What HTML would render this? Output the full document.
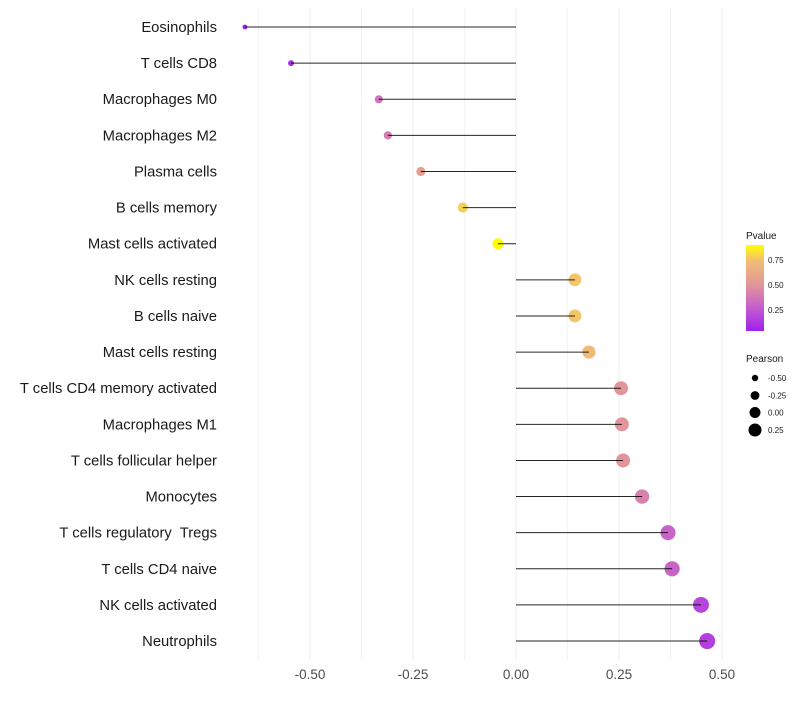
<!DOCTYPE html>
<html><head><meta charset="utf-8"><style>
body{margin:0;background:#fff;font-family:"Liberation Sans",sans-serif}
</style></head><body>
<svg id="c" width="800" height="700" xmlns="http://www.w3.org/2000/svg">
<defs><linearGradient id="pg" x1="0" y1="1" x2="0" y2="0">
<stop offset="0" stop-color="#a020f0"/><stop offset="0.3" stop-color="#c864c8"/><stop offset="0.53" stop-color="#e1949b"/><stop offset="0.82" stop-color="#f2be73"/><stop offset="1" stop-color="#ffff00"/>
</linearGradient></defs>
</svg>
<script>
const categories=["Eosinophils","T cells CD8","Macrophages M0","Macrophages M2","Plasma cells","B cells memory","Mast cells activated","NK cells resting","B cells naive","Mast cells resting","T cells CD4 memory activated","Macrophages M1","T cells follicular helper","Monocytes","T cells regulatory  Tregs","T cells CD4 naive","NK cells activated","Neutrophils"];
const pearson=[-0.658,-0.546,-0.333,-0.311,-0.231,-0.129,-0.044,0.143,0.143,0.177,0.255,0.257,0.26,0.306,0.369,0.379,0.449,0.464];
const pvalue=[0.05,0.08,0.36,0.4,0.56,0.78,0.92,0.76,0.76,0.72,0.5,0.5,0.5,0.42,0.3,0.3,0.18,0.16];
const xTicks=[-0.5,-0.25,0,0.25,0.5];
const xTickLabels=["-0.50","-0.25","0.00","0.25","0.50"];
const NS="http://www.w3.org/2000/svg";
const svg=document.getElementById('c');
const xs=v=>516+v*412;
const ys=i=>27+i*36.12;
const rs=v=>Math.max(1.8,5.7+5*v);
function col(p){const st=[[0,[160,32,240]],[0.3,[200,100,200]],[0.53,[225,148,155]],[0.82,[242,190,115]],[1,[255,255,0]]];
 const q=Math.min(1,Math.max(0,(p-0.04)/(0.9-0.04)));
 for(let k=1;k<st.length;k++){if(q<=st[k][0]){const a=st[k-1],b=st[k];const f=(q-a[0])/(b[0]-a[0]);
 return 'rgb('+a[1].map((c,j)=>Math.round(c+(b[1][j]-c)*f)).join(',')+')';}}return 'rgb(255,255,0)';}
function mk(tag,attrs,parent){const e=document.createElementNS(NS,tag);for(const k in attrs)e.setAttribute(k,attrs[k]);(parent||svg).appendChild(e);return e;}
for(let v=-0.625;v<=0.501;v+=0.125){const g=mk('line',{x1:xs(v),x2:xs(v),y1:8,y2:660,stroke:'#ececec','stroke-width':Math.abs((v*4)%1)<0.01?1:0.6});

}
xTicks.forEach((v,i)=>{const t=mk('text',{x:xs(v),y:679,'text-anchor':'middle','font-size':13.5,fill:'#4d4d4d'});t.textContent=xTickLabels[i];

});
categories.forEach((c,i)=>{const y=ys(i);
 const t=mk('text',{x:217,y:y+5,'text-anchor':'end','font-size':14.8,fill:'#1a1a1a',style:'white-space:pre'});t.textContent=c;
 
 
 const d=mk('circle',{cx:xs(pearson[i]),cy:y,r:rs(pearson[i]),fill:col(pvalue[i])});
 
 
 const l=mk('line',{x1:xs(0),x2:xs(pearson[i]),y1:y,y2:y,stroke:'#000','stroke-width':1,'stroke-opacity':0.85});
 
 
});
const lt=mk('text',{x:746,y:239,'font-size':10,fill:'#1a1a1a'});lt.textContent='Pvalue';


const cb=mk('rect',{x:746,y:245,width:18,height:86,fill:'url(#pg)'});


[["0.75",260],["0.50",285],["0.25",310]].forEach(([s,y])=>{const t=mk('text',{x:768,y:y+3,'font-size':8,fill:'#1a1a1a'});t.textContent=s;

});
const pt=mk('text',{x:746,y:362,'font-size':10,fill:'#1a1a1a'});pt.textContent='Pearson';


[["-0.50",378,3.2],["-0.25",395.5,4.4],["0.00",412.5,5.5],["0.25",430,6.5]].forEach(([s,y,r])=>{
 const c=mk('circle',{cx:755,cy:y,r:r,fill:'#000'});
 
 
 const t=mk('text',{x:768,y:y+3,'font-size':8,fill:'#1a1a1a'});t.textContent=s;
 
 });
</script>
</body></html>
